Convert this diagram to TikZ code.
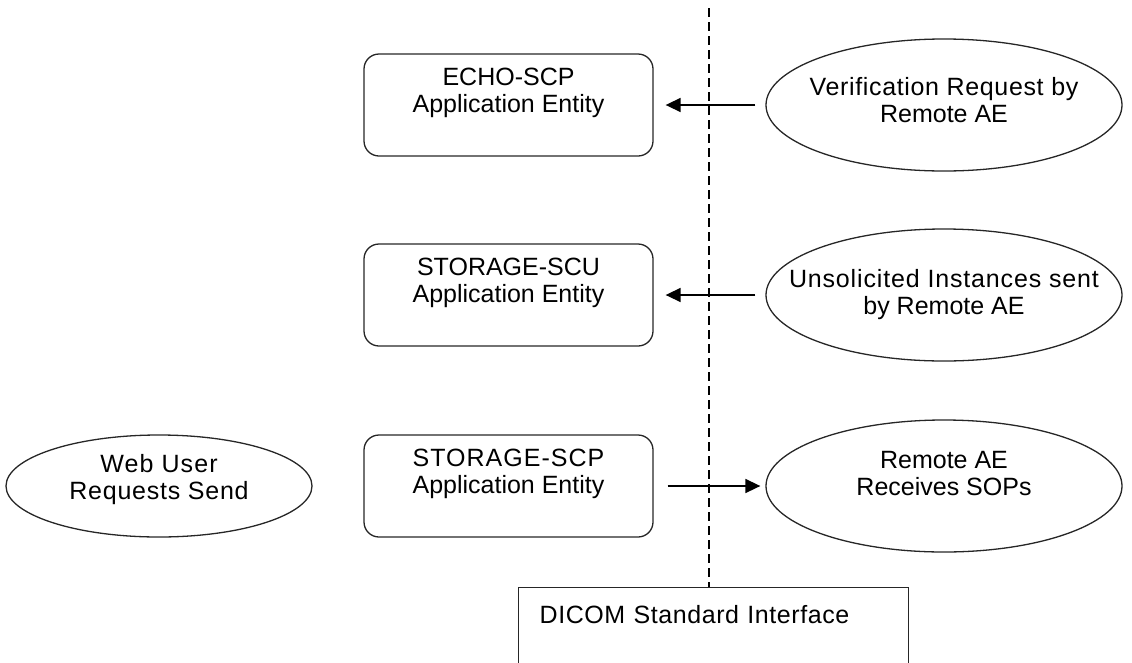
\documentclass[tikz,border=0pt]{standalone}
\usepackage{fontspec}
\setmainfont{Liberation Sans}
\usetikzlibrary{shapes.geometric,arrows.meta}

\newcommand{\spaced}[1]{\addfontfeatures{LetterSpace=#1}}

\begin{document}
\begin{tikzpicture}[x=1pt,y=-1pt,
        font=\fontsize{25}{27}\selectfont,
        entity/.style={draw=black!85,line width=1.3pt,rounded corners=15pt,
            minimum width=289pt,minimum height=102pt,inner sep=0pt,align=center,text depth=30pt},
        remote/.style={draw=black!85,ellipse,line width=1.3pt,
            minimum width=356pt,minimum height=132pt,inner xsep=-70pt,inner ysep=0pt,align=center},
        msg/.style={-{Triangle[length=15pt,width=14pt]},line width=1.6pt}]
    \useasboundingbox (0,0) rectangle (1132,662);
    \clip (0,0) rectangle (1132,662);

    \node[entity] (echo) at (508.5,105) {ECHO-SCP\\Application Entity};
    \node[entity] (scu) at (508.5,295) {STORAGE-SCU\\Application Entity};
    \node[entity] (scp) at (508.5,486) {{\spaced{4}STORAGE-SCP}\\Application Entity};

    \node[remote,text depth=10pt] (verify) at (944,105) {{\spaced{2.6}Verification Request by}\\Remote AE};
    \node[remote] (unsolicited) at (944,295) {{\spaced{3.4}Unsolicited Instances sent}\\by Remote AE};
    \node[remote,text depth=25pt] (receives) at (944,486) {Remote AE\\Receives SOPs};

    \node[remote,minimum width=306pt,minimum height=102pt,text depth=19pt] (webuser) at (159,486)
        {{\spaced{4.5}Web User}\\{\spaced{3}Requests Send}};

    \node[draw=black!85,line width=1.3pt,anchor=north west,text width=348pt,align=left,
        inner xsep=21pt,inner ysep=10pt,text height=26pt,text depth=90pt] (dicom) at (518,587)
        {\spaced{2.3}DICOM Standard Interface};

    \coordinate (border) at (709,8);
    \draw[dash pattern=on 9pt off 5pt,line width=1.3pt] (border) -- (border |- dicom.north);

    \draw[msg,shorten <=10pt,shorten >=12pt] (verify) -- (echo);
    \draw[msg,shorten <=10pt,shorten >=12pt] (unsolicited) -- (scu);
    \draw[msg,shorten <=14pt,shorten >=5pt] (scp) -- (receives);
\end{tikzpicture}
\end{document}
